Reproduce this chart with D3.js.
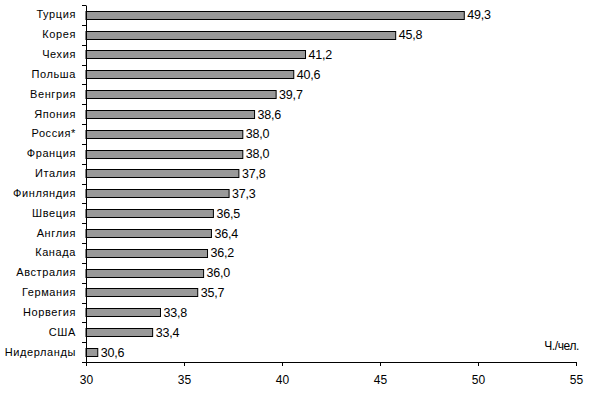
<!DOCTYPE html>
<html>
<head>
<meta charset="utf-8">
<script src="https://cdn.jsdelivr.net/npm/d3@7"></script>
<style>
  body { margin:0; background:#fff; }
  text { font-family: "Liberation Sans", Arial, sans-serif; fill:#000; }
</style>
</head>
<body>
<div id="content"></div>
<script>
const countries = ["Турция","Корея","Чехия","Польша","Венгрия","Япония","Россия*","Франция","Италия",
    "Финляндия","Швеция","Англия","Канада","Австралия","Германия","Норвегия","США","Нидерланды"];
const values = [49.3,45.8,41.2,40.6,39.7,38.6,38.0,38.0,37.8,37.3,36.5,36.4,36.2,36.0,35.7,33.8,33.4,30.6];
const xTicks = [30,35,40,45,50,55];
const unitLabel = "Ч./чел.";

const data = countries.map((c,i)=>({country:c, value:values[i]}));

const W = 589, H = 393;
const margin = { left:86, right:13, top:5, bottom:31 };
const iW = W - margin.left - margin.right;
const iH = H - margin.top - margin.bottom;

const x = d3.scaleLinear().domain([30,55]).range([0, iW]);
const y = d3.scaleBand().domain(countries).range([0, iH]).paddingInner(0.58).paddingOuter(0.29);

const svg = d3.select("#content").append("svg")
    .attr("width", W).attr("height", H);

const g = svg.append("g")
    .attr("transform","translate("+margin.left+","+margin.top+")");

// bars
g.selectAll(".bar").data(data).enter()
    .append("rect")
    .attr("class","bar")
    .attr("x", x(30))
    .attr("y", d=>Math.round(y(d.country))+0.5)
    .attr("width", d=>x(d.value)-x(30))
    .attr("height", Math.round(y.bandwidth()))
    .attr("fill","#999999")
    .attr("stroke","#000")
    .attr("stroke-width",1);

// value labels
g.selectAll(".val").data(data).enter()
    .append("text")
    .attr("class","val")
    .attr("x", d=>x(d.value)+3)
    .attr("y", d=>y(d.country)+y.bandwidth()/2)
    .attr("dy","0.36em")
    .style("font-size","12.5px")
    .style("letter-spacing","-0.2px")
    .text(d=>d3.format(".1f")(d.value).replace(".",","));

// x axis
const xAxis = g.append("g")
    .attr("transform","translate(0,"+iH+")")
    .call(d3.axisBottom(x).tickValues(xTicks).tickSize(4).tickSizeOuter(0).tickPadding(9));
xAxis.selectAll("text").style("font-size","12px").attr("fill","#000");
xAxis.selectAll("line,path").attr("stroke","#000");

// y axis: labels at band centers, ticks at band borders
const yAxis = g.append("g")
    .call(d3.axisLeft(y).tickSize(0).tickPadding(10).tickSizeOuter(0));
yAxis.selectAll("text").style("font-size","11px").style("letter-spacing","0.6px");
yAxis.select("path").attr("stroke","#000");
const yb = d3.scaleLinear().domain([0, countries.length]).range([0, iH]);
g.append("g").selectAll("line").data(d3.range(countries.length+1)).enter()
    .append("line")
    .attr("x1",-4).attr("x2",0)
    .attr("y1",d=>Math.round(yb(d))+0.5).attr("y2",d=>Math.round(yb(d))+0.5)
    .attr("stroke","#000");

// unit label
g.append("text")
    .attr("x", iW+3)
    .attr("y", iH-12)
    .attr("text-anchor","end")
    .style("font-size","12px")
    .style("letter-spacing","-0.4px")
    .text(unitLabel);
</script>
</body>
</html>
